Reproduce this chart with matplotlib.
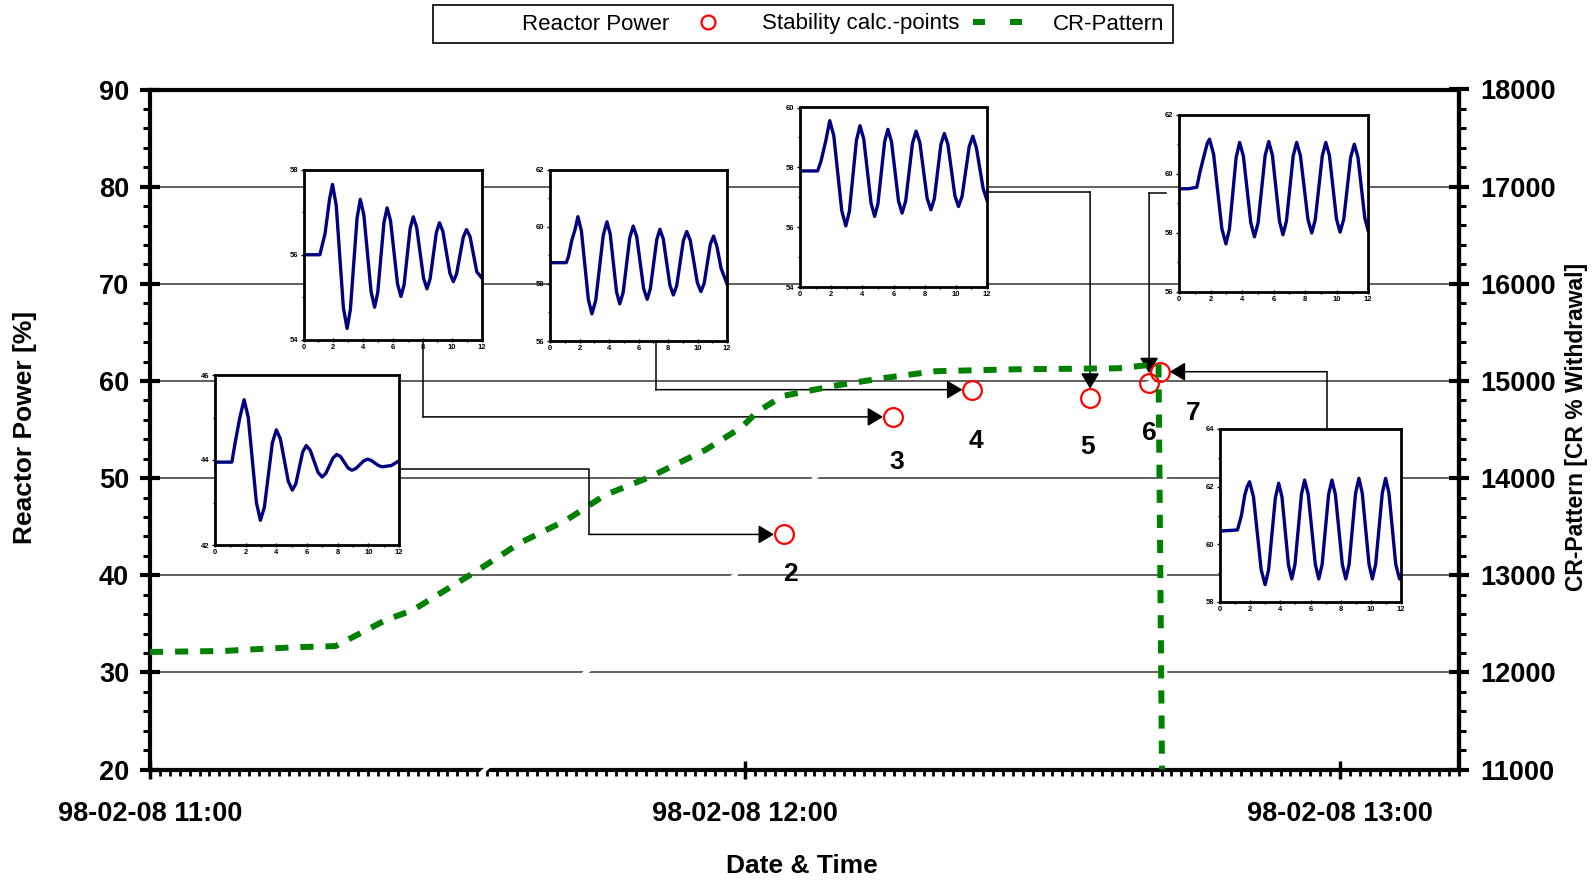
import pandas as pd
import matplotlib
matplotlib.use('Agg')
import matplotlib.pyplot as plt
import matplotlib.dates as mdates
from matplotlib.lines import Line2D
from matplotlib.ticker import MultipleLocator

plt.rcParams['font.family'] = ['Liberation Sans', 'DejaVu Sans']
plt.rcParams['font.weight'] = 'bold'
plt.rcParams['axes.labelweight'] = 'bold'

W, H = 1594, 883
START = pd.Timestamp('1998-02-08 11:00')

# CR-Pattern (right axis), minutes after 11:00
cr_min = [0, 7.4, 11, 15, 18.7, 23.8, 26.5, 33.1, 37.3, 42.0, 45.9, 50.4, 56.0,
          59.7, 61.2, 63.8, 69.0, 74.0, 79.2, 87.4, 97.6, 101.7, 102.05]
cr_val = [12210, 12220, 12240, 12260, 12270, 12540, 12640, 13054, 13332, 13568, 13826,
          14011, 14289, 14526, 14680, 14845, 14950, 15030, 15100, 15120, 15130, 15174, 11000]

# Reactor power (drawn white, only visible where it cuts the grid)
pw_min = [33.4, 43.9, 59.0, 67.0, 74.9, 82.9, 94.8, 100.8, 101.9, 102.3, 102.4]
pw_val = [19.6, 30.0, 40.0, 50.0, 56.3, 59.1, 58.2, 59.8, 60.9, 60.5, 20.5]

# stability calculation points
st_min = [63.9, 74.9, 82.9, 94.8, 100.75, 101.85]
st_pow = [44.2, 56.3, 59.1, 58.2, 59.8, 60.95]
st_lbl = ['2', '3', '4', '5', '6', '7']

# small oscillation plots (time 0-12, power)
ins2_t = [0, 1.1, 1.3, 1.62, 1.9, 2.17, 2.7, 2.96, 3.22, 3.74, 4.0, 4.26, 4.78, 5.04, 5.27, 5.72,
          5.95, 6.21, 6.72, 6.98, 7.22, 7.7, 7.94, 8.19, 8.68, 8.93, 9.19, 9.7, 9.95, 10.19,
          10.66, 10.9, 11.5, 12]
ins2_v = [43.95, 43.95, 44.38, 45.0, 45.42, 45.0, 43.0, 42.58, 42.89, 44.4, 44.71, 44.5, 43.5,
          43.29, 43.44, 44.19, 44.34, 44.23, 43.71, 43.6, 43.68, 44.05, 44.13, 44.08, 43.81,
          43.76, 43.8, 43.98, 44.02, 43.99, 43.87, 43.84, 43.87, 43.98]
ins3_t = [0, 1.1, 1.45, 1.75, 1.95, 2.2, 2.68, 2.93, 3.15, 3.6, 3.82, 4.06, 4.54, 4.78, 4.99,
          5.41, 5.62, 5.85, 6.32, 6.55, 6.76, 7.17, 7.38, 7.61, 8.07, 8.3, 8.51, 8.93, 9.14,
          9.37, 9.84, 10.07, 10.29, 10.74, 10.96, 11.2, 11.65, 12]
ins3_v = [56.0, 56.0, 56.5, 57.3, 57.65, 57.16, 54.76, 54.27, 54.71, 56.86, 57.3, 56.93, 55.14,
          54.77, 55.11, 56.76, 57.1, 56.8, 55.32, 55.02, 55.29, 56.62, 56.89, 56.64, 55.45,
          55.2, 55.43, 56.52, 56.75, 56.55, 55.57, 55.37, 55.55, 56.41, 56.59, 56.42, 55.6, 55.45]
ins4_t = [0, 1.1, 1.25, 1.48, 1.7, 1.89, 2.13, 2.6, 2.84, 3.1, 3.61, 3.86, 4.08, 4.51, 4.73,
          4.96, 5.41, 5.64, 5.88, 6.35, 6.59, 6.8, 7.24, 7.45, 7.68, 8.13, 8.36, 8.59, 9.04,
          9.27, 9.51, 9.99, 10.23, 10.45, 10.87, 11.09, 11.32, 11.6, 12]
ins4_v = [58.74, 58.74, 58.95, 59.53, 59.9, 60.35, 59.85, 57.45, 56.95, 57.42, 59.7, 60.17,
          59.75, 57.72, 57.3, 57.7, 59.62, 60.02, 59.65, 57.83, 57.46, 57.82, 59.55, 59.91,
          59.57, 57.95, 57.61, 57.93, 59.51, 59.83, 59.52, 58.04, 57.73, 58.01, 59.39, 59.67,
          59.3, 58.54, 58.0]
ins5_t = [0, 1.13, 1.34, 1.66, 1.91, 2.17, 2.68, 2.94, 3.17, 3.62, 3.85, 4.09, 4.56, 4.79, 5.0,
          5.43, 5.64, 5.87, 6.32, 6.55, 6.78, 7.22, 7.45, 7.69, 8.16, 8.4, 8.62, 9.04, 9.26,
          9.49, 9.94, 10.17, 10.4, 10.86, 11.09, 11.32, 11.75, 12]
ins5_v = [57.88, 57.88, 58.19, 58.9, 59.56, 59.05, 56.55, 56.04, 56.53, 58.9, 59.39, 58.95,
          56.8, 56.36, 56.78, 58.85, 59.27, 58.86, 56.88, 56.47, 56.87, 58.81, 59.21, 58.83,
          56.96, 56.58, 56.95, 58.76, 59.13, 58.77, 57.05, 56.69, 57.03, 58.7, 59.04, 58.65,
          57.3, 56.9]
ins6_t = [0, 0.6, 1.13, 1.34, 1.58, 1.8, 1.94, 2.2, 2.72, 2.98, 3.2, 3.63, 3.85, 4.09, 4.56,
          4.79, 5.02, 5.47, 5.7, 5.93, 6.38, 6.6, 6.82, 7.25, 7.47, 7.71, 8.19, 8.43, 8.65,
          9.1, 9.32, 9.55, 10.0, 10.23, 10.46, 10.9, 11.13, 11.36, 11.8, 12]
ins6_v = [59.5, 59.5, 59.55, 60.09, 60.6, 61.05, 61.18, 60.66, 58.15, 57.63, 58.13, 60.57,
          61.07, 60.6, 58.34, 57.87, 58.34, 60.63, 61.1, 60.64, 58.4, 57.94, 58.4, 60.61,
          61.07, 60.62, 58.45, 58.0, 58.45, 60.62, 61.07, 60.63, 58.47, 58.03, 58.47, 60.57,
          61.01, 60.57, 58.5, 58.1]
ins7_t = [0, 0.6, 1.16, 1.42, 1.64, 1.8, 1.96, 2.22, 2.73, 2.99, 3.22, 3.67, 3.89, 4.11, 4.54,
          4.76, 4.97, 5.4, 5.61, 5.85, 6.32, 6.55, 6.77, 7.2, 7.42, 7.65, 8.11, 8.34, 8.56,
          8.99, 9.21, 9.43, 9.88, 10.1, 10.32, 10.76, 10.98, 11.2, 11.65, 11.9, 12]
ins7_v = [60.46, 60.48, 60.5, 61.0, 61.7, 62.0, 62.17, 61.65, 59.12, 58.6, 59.11, 61.61,
          62.12, 61.64, 59.28, 58.8, 59.3, 61.73, 62.23, 61.73, 59.3, 58.8, 59.3, 61.73, 62.23,
          61.73, 59.3, 58.8, 59.31, 61.78, 62.29, 61.78, 59.31, 58.8, 59.31, 61.78, 62.29,
          61.78, 59.31, 58.8, 58.85]


def to_time(minutes):
    return (START + pd.to_timedelta(minutes, unit='min')).to_numpy()


def px(x, y):
    # pixel (origin top-left) -> figure fraction
    return x / W, 1 - y / H


fig = plt.figure(figsize=(W / 100, H / 100), dpi=100)
ax = fig.add_axes([150 / W, 1 - 769.5 / H, 1309 / W, 680 / H])
ax2 = ax.twinx()

ax.set_xlim(to_time([0])[0], to_time([132])[0])
ax.set_ylim(20, 90)
ax2.set_ylim(11000, 18000)

# grid
ax.yaxis.set_major_locator(MultipleLocator(10))
ax.yaxis.set_minor_locator(MultipleLocator(2))
ax.grid(axis='y', which='major', color='#444444', lw=1.2)
ax2.yaxis.set_major_locator(MultipleLocator(1000))
ax2.yaxis.set_minor_locator(MultipleLocator(200))

ax.xaxis.set_major_locator(mdates.HourLocator())
ax.xaxis.set_minor_locator(mdates.MinuteLocator())
ax.xaxis.set_major_formatter(mdates.DateFormatter('%y-%m-%d %H:%M'))

for a in (ax, ax2):
    for s in a.spines.values():
        s.set_linewidth(3)
for s in ('bottom', 'top', 'left'):
    ax2.spines[s].set_visible(False)

ax.tick_params(axis='x', which='major', direction='inout', length=13, width=2.5, labelsize=19.5, pad=16.5)
ax.tick_params(axis='x', which='minor', direction='out', length=4.5, width=2)
ax.tick_params(axis='y', which='major', direction='inout', length=14, width=3, labelsize=19.5, pad=8)
ax.tick_params(axis='y', which='minor', direction='out', length=5, width=2.2)
ax2.tick_params(axis='y', which='major', direction='inout', length=14, width=3, labelsize=19.5, pad=8)
ax2.tick_params(axis='y', which='minor', direction='out', length=5, width=2.2)

# series
ax.plot(to_time(pw_min), pw_val, color='white', lw=3, zorder=3, clip_on=False)
ax.plot(to_time(st_min), st_pow, ls='none', marker='o', ms=13.5, mfc='none', mec='red', mew=1.6, zorder=4)
ax2.plot(to_time(cr_min), cr_val, color='green', lw=4.3, dashes=(2.2, 2.0), zorder=3)

# point numbers
label_off = [(7, 40), (3.5, 45), (4, 51), (-3, 49), (0.5, 50), (33, 41)]
for t, p, lbl, (dx, dy) in zip(to_time(st_min), st_pow, st_lbl, label_off):
    ax.annotate(lbl, xy=(t, p), xytext=(dx * 0.72, -dy * 0.72), textcoords='offset points',
                ha='center', va='center', fontsize=19, fontweight='bold')

# axis labels
ax.set_xlabel('Date & Time', fontsize=19, fontweight='bold')
ax.xaxis.set_label_coords((802 - 150) / 1309, (769.5 - 866) / 680)
ax.xaxis.label.set_va('center')
ax.set_ylabel('Reactor Power [%]', fontsize=19, fontweight='bold')
ax.yaxis.set_label_coords((25.4 - 150) / 1309, (769.5 - 427) / 680)
ax.yaxis.label.set_va('center')
ax2.set_ylabel('CR-Pattern [CR % Withdrawal]', fontsize=16.5, fontweight='bold', rotation=90)
ax2.yaxis.set_label_coords((1576 - 150) / 1309, (769.5 - 427) / 680)
ax2.yaxis.label.set_va('center')

# inset oscillation plots
insets = [
    (ins2_t, ins2_v, (42, 46), (215, 375, 399, 545)),
    (ins3_t, ins3_v, (54, 58), (303.5, 169.5, 482, 340)),
    (ins4_t, ins4_v, (56, 62), (550, 169.5, 727, 341)),
    (ins5_t, ins5_v, (54, 60), (800, 107.5, 987, 287)),
    (ins6_t, ins6_v, (56, 62), (1179, 115, 1368, 292)),
    (ins7_t, ins7_v, (58, 64), (1220, 429, 1401, 602)),
]
for t, v, ylim, (x0, y0, x1, y1) in insets:
    iax = fig.add_axes([x0 / W, 1 - y1 / H, (x1 - x0) / W, (y1 - y0) / H])
    iax.plot(t, v, color='#000080', lw=2.4, solid_joinstyle='round')
    iax.set_xlim(0, 12)
    iax.set_ylim(*ylim)
    iax.xaxis.set_major_locator(MultipleLocator(2))
    iax.xaxis.set_minor_locator(MultipleLocator(1))
    iax.yaxis.set_major_locator(MultipleLocator(2))
    iax.yaxis.set_minor_locator(MultipleLocator(1))
    iax.tick_params(labelsize=5.5, pad=1.5, length=2.5, width=1)
    iax.tick_params(axis='x', which='major', direction='inout', length=3)
    iax.tick_params(which='minor', length=1.5, width=1)
    for s in iax.spines.values():
        s.set_linewidth(2)

# connectors from the insets to the points
connectors = [
    ([(399, 469), (589, 469)], 'left'),
    ([(423, 340)], 'left'),
    ([(656, 341)], 'left'),
    ([(987, 192)], 'top'),
    ([(1166, 193)], 'top'),
    ([(1327, 429)], 'right'),
]
for (pts, side), t, p in zip(connectors, to_time(st_min), st_pow):
    dxp, dyp = ax.transData.transform((mdates.date2num(t), p))
    dyp = H - dyp
    lx, ly = pts[-1]
    bend = (lx, dyp) if side in ('left', 'right') else (dxp, ly)
    path = pts + [bend]
    fx = [px(x, y)[0] for x, y in path]
    fy = [px(x, y)[1] for x, y in path]
    fig.add_artist(Line2D(fx, fy, transform=fig.transFigure, color='black', lw=1.1))
    ax.annotate('', xy=(t, p), xycoords='data', xytext=px(*bend), textcoords='figure fraction',
                arrowprops=dict(arrowstyle='-|>,head_length=0.5,head_width=0.3', color='black',
                                lw=1.1, shrinkA=0, shrinkB=7, mutation_scale=19))

# legend
handles = [
    Line2D([], [], color='white', lw=3),
    Line2D([], [], ls='none', marker='o', ms=10, mfc='none', mec='red', mew=1.6),
    Line2D([], [], color='green', lw=4.3, dashes=(2.0, 4.2)),
]
labels = ['Reactor Power', 'Stability calc.-points', 'CR-Pattern']
leg = fig.legend(handles, labels, loc='center', bbox_to_anchor=px(803, 24), ncol=3,
                 frameon=True, fancybox=False, edgecolor='black', framealpha=1,
                 prop={'size': 16, 'weight': 'normal'}, handlelength=2.3, handletextpad=1.3,
                 columnspacing=0.6, borderpad=0.38, borderaxespad=0)
leg.get_frame().set_linewidth(1.2)

fig.savefig('out.png', dpi=100)
